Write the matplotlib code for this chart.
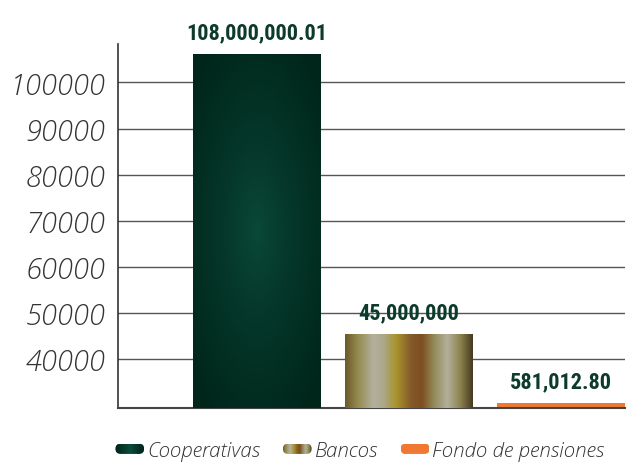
import numpy as np
import matplotlib
matplotlib.use('Agg')
import matplotlib.pyplot as plt
from matplotlib.colors import LinearSegmentedColormap, to_rgb
from matplotlib.patches import FancyBboxPatch, Rectangle
from matplotlib.legend_handler import HandlerBase

# ---------------- data ----------------
categories = ['Cooperativas', 'Bancos', 'Fondo de pensiones']
bar_heights = [106200, 45400, 30450]          # bar tops
value_labels = ['108,000,000.01', '45,000,000', '581,012.80']
y_ticks = [40000, 50000, 60000, 70000, 80000, 90000, 100000]
y_limits = (29370, 108350)

# ---------------- style ----------------
LABEL_FONT = ['Open Sans', 'DejaVu Sans']
VALUE_FONT = ['Roboto Condensed', 'Roboto', 'DejaVu Sans']
value_color = '#0c3b2c'
orange = '#f07830'

banco_cmap = LinearSegmentedColormap.from_list('bancos', [
    (0.00, '#6a5a2a'), (0.10, '#968a50'), (0.22, '#b2b09c'), (0.30, '#aca88a'),
    (0.40, '#a8942c'), (0.52, '#84582a'), (0.60, '#7e4e20'), (0.70, '#948c5a'),
    (0.80, '#b2b09c'), (0.90, '#8e8450'), (1.00, '#463a1e')])
coop_cmap = LinearSegmentedColormap.from_list('coop', [
    (0.0, '#002419'), (0.3, '#06392c'), (0.5, '#0b4a3a'), (0.7, '#06392c'), (1.0, '#002419')])
orange_cmap = LinearSegmentedColormap.from_list('or', [orange, orange])

W, H = 629, 464
fig = plt.figure(figsize=(W / 100, H / 100), dpi=100)
ax = fig.add_axes([118 / W, (H - 409) / H, (625 - 118) / W, (409 - 45) / H])

x = np.arange(len(categories))
bar_w = 0.84
bars = ax.bar(x, bar_heights, width=bar_w, color=['#003325', '#9a8a50', orange],
              zorder=2, linewidth=0)

ax.set_xlim(-0.91, 2.42)
ax.set_ylim(*y_limits)

# Cooperativas: elliptical radial gradient clipped to the bar
b0 = bars[0]
ny, nx = 200, 80
uu, vv = np.meshgrid(np.linspace(-1, 1, nx), np.linspace(-1, 1, ny))
d = np.sqrt((uu * 64 / 74) ** 2 + (vv * 177 / 190) ** 2)
t = np.clip(d / 1.15, 0, 1) ** 0.75
c_center = np.array(to_rgb('#0a4a39'))
c_edge = np.array(to_rgb('#00261b'))
img = c_center[None, None, :] * (1 - t[..., None]) + c_edge[None, None, :] * t[..., None]
im = ax.imshow(img, extent=(b0.get_x(), b0.get_x() + b0.get_width(), y_limits[0], bar_heights[0]),
               aspect='auto', interpolation='bilinear', zorder=3, origin='lower')
im.set_clip_path(b0)

# Bancos: horizontal metallic gradient
b1 = bars[1]
grad = np.linspace(0, 1, 256)[None, :]
im2 = ax.imshow(banco_cmap(grad), extent=(b1.get_x(), b1.get_x() + b1.get_width(),
                                          y_limits[0], bar_heights[1]),
                aspect='auto', interpolation='bilinear', zorder=3)
im2.set_clip_path(b1)

ax.set_xlim(-0.91, 2.42)
ax.set_ylim(*y_limits)

# value labels
for xi, h, lab in zip(x, bar_heights, value_labels):
    ax.annotate(lab, (xi, h), xytext=(0, 11), textcoords='offset pixels',
                ha='center', va='bottom', fontsize=16, fontweight='bold',
                family=VALUE_FONT, fontstretch='condensed',
                color=value_color, zorder=5, annotation_clip=False)

# axes styling
ax.set_yticks(y_ticks)
ax.set_yticklabels([str(v) for v in y_ticks], fontsize=21, family=LABEL_FONT,
                   style='italic', fontweight='light', color='#333333')
ax.tick_params(axis='y', length=0, pad=9)
ax.set_xticks([])
ax.yaxis.grid(True, color='#555555', linewidth=1.0)
ax.set_axisbelow(True)
for s in ['top', 'right']:
    ax.spines[s].set_visible(False)
ax.spines['left'].set_color('#333333')
ax.spines['left'].set_linewidth(1.2)
ax.spines['bottom'].set_color('#444444')
ax.spines['bottom'].set_linewidth(1.5)


class GradHandler(HandlerBase):
    def __init__(self, cmap):
        super().__init__()
        self.cmap = cmap

    def create_artists(self, legend, orig_handle, xdescent, ydescent, width, height,
                       fontsize, trans):
        h = height * 0.75
        y0 = -ydescent + (height - h) / 2
        box = FancyBboxPatch((-xdescent, y0), width, h,
                             boxstyle=f"round,pad=0,rounding_size={h / 2}",
                             transform=trans, facecolor='none', edgecolor='none')
        arts = [box]
        n = 30
        for i in range(n):
            r = Rectangle((-xdescent + width * i / n, y0), width / n * 1.1, h,
                          facecolor=self.cmap((i + 0.5) / n), edgecolor='none',
                          transform=trans)
            r.set_clip_path(box)
            arts.append(r)
        return arts


handles = [Rectangle((0, 0), 1, 1) for _ in categories]
fig.legend(handles, categories, loc='center', bbox_to_anchor=(360 / W, 1 - 452 / H),
           ncol=3, frameon=False, handlelength=1.4, handleheight=0.65,
           handletextpad=0.15, columnspacing=1.1,
           handler_map={handles[0]: GradHandler(coop_cmap),
                        handles[1]: GradHandler(banco_cmap),
                        handles[2]: GradHandler(orange_cmap)},
           prop=dict(family=LABEL_FONT, style='italic', weight='light', size=14.8),
           labelcolor='#333333')

fig.savefig('out.png', dpi=100)
